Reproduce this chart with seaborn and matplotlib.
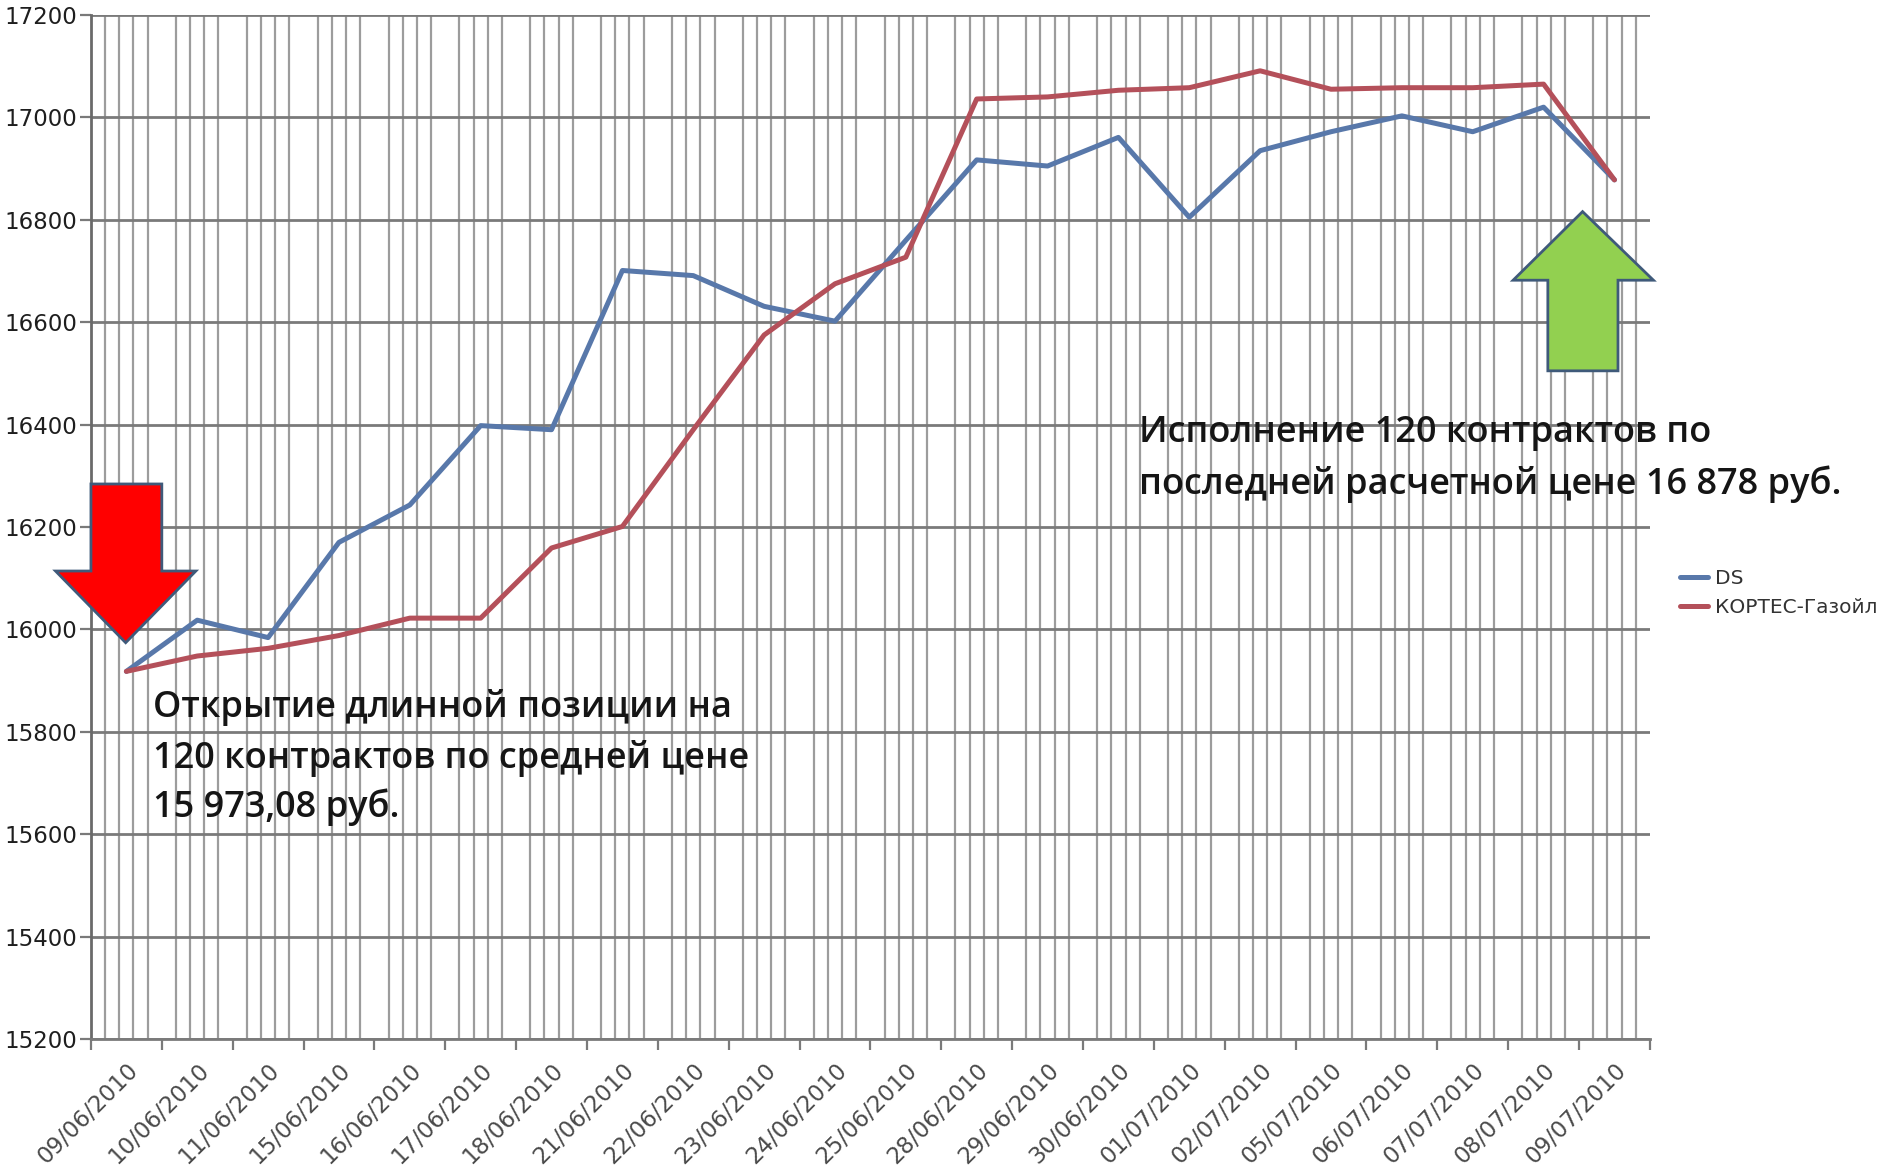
import numpy as np
import pandas as pd
import matplotlib
matplotlib.use("Agg")
import matplotlib.pyplot as plt
import seaborn as sns
from matplotlib.patches import Polygon
from matplotlib.ticker import FixedLocator

# ---- data ----
dates = ["09/06/2010", "10/06/2010", "11/06/2010", "15/06/2010", "16/06/2010",
         "17/06/2010", "18/06/2010", "21/06/2010", "22/06/2010", "23/06/2010",
         "24/06/2010", "25/06/2010", "28/06/2010", "29/06/2010", "30/06/2010",
         "01/07/2010", "02/07/2010", "05/07/2010", "06/07/2010", "07/07/2010",
         "08/07/2010", "09/07/2010"]
ds = [15918, 16018, 15984, 16170, 16243, 16398, 16390, 16701, 16691, 16631,
      16602, 16760, 16917, 16905, 16961, 16805, 16935, 16972, 17003, 16972,
      17020, 16878]
kortes = [15918, 15948, 15963, 15988, 16022, 16022, 16159, 16201, 16390, 16575,
          16675, 16727, 17036, 17040, 17053, 17058, 17091, 17055, 17058, 17058,
          17065, 16878]
series_names = ["DS", "КОРТЕС-Газойл"]
y_ticks = [15200, 15400, 15600, 15800, 16000, 16200, 16400, 16600, 16800, 17000, 17200]

note_open = ["Открытие длинной позиции на",
             "120 контрактов по средней цене",
             "15 973,08 руб."]
note_close = ["Исполнение 120 контрактов по",
              "последней расчетной цене 16 878 руб."]

# ---- style ----
sns.set_theme(style="white")
plt.rcParams["font.family"] = ["Open Sans", "DejaVu Sans"]
tick_font = ["DejaVu Sans"]

n = len(dates)
pos = np.arange(n) + 0.5
df = pd.concat([
    pd.DataFrame({"pos": pos, "value": ds, "series": series_names[0]}),
    pd.DataFrame({"pos": pos, "value": kortes, "series": series_names[1]}),
])

fig = plt.figure(figsize=(18.83, 11.72), dpi=100)
ax = fig.add_axes([0.0483, 0.1135, 0.8279, 0.8737])

palette = {series_names[0]: "#5878AA", series_names[1]: "#B4505A"}
sns.lineplot(data=df, x="pos", y="value", hue="series", palette=palette,
             linewidth=3.6, ax=ax, zorder=3, legend=True)

ax.set_xlim(0, n)
ax.set_ylim(15200, 17200)
ax.set_xlabel("")
ax.set_ylabel("")

# y axis
ax.yaxis.set_major_locator(FixedLocator(y_ticks))
ax.set_yticklabels([str(v) for v in y_ticks], family=tick_font)
ax.yaxis.grid(True, color="#7a7a7a", linewidth=2.0)
ax.tick_params(axis="y", which="major", left=True, length=8, width=1.6,
               color="#7a7a7a", pad=2, labelsize=16.5, labelcolor="#1e1e1e")

# x axis: labels at category centres, tick marks at boundaries
ax.xaxis.set_major_locator(FixedLocator(pos))
ax.set_xticklabels(dates, family=tick_font)
ax.xaxis.set_minor_locator(FixedLocator(np.arange(n + 1)))
ax.tick_params(axis="x", which="major", bottom=True, length=0, pad=14,
               labelsize=16.5, labelcolor="#4a4a4a")
ax.tick_params(axis="x", which="minor", bottom=True, length=8, width=1.6,
               color="#7a7a7a")
plt.setp(ax.get_xticklabels(), rotation=45, ha="right", rotation_mode="anchor")
ax.xaxis.grid(False)

# fine vertical grid (4 lines inside each category)
vgrid = [i + k / 5 for i in range(n) for k in range(1, 5)]
ax.vlines(vgrid, 0, 1, transform=ax.get_xaxis_transform(), colors="#9c9c9c",
          linewidth=1.6, zorder=0.5)
ax.set_axisbelow(True)

for s in ["top", "right"]:
    ax.spines[s].set_visible(False)
ax.spines["left"].set_color("#6a6a6a")
ax.spines["left"].set_linewidth(2.0)
ax.spines["bottom"].set_color("#7a7a7a")
ax.spines["bottom"].set_linewidth(2.0)

# arrows
outline = "#3F5A7A"
red_arrow = [(0.0, 16284), (1.0, 16284), (1.0, 16114), (1.48, 16114),
             (0.49, 15974), (-0.5, 16114), (0.0, 16114)]
green_arrow = [(20.56, 16505), (21.55, 16505), (21.55, 16682), (22.05, 16682),
               (21.05, 16816), (20.07, 16682), (20.56, 16682)]
ax.add_patch(Polygon(red_arrow, closed=True, facecolor="#FF0000",
                     edgecolor=outline, linewidth=2, zorder=5, clip_on=False))
ax.add_patch(Polygon(green_arrow, closed=True, facecolor="#92D050",
                     edgecolor=outline, linewidth=2, zorder=5, clip_on=False))

# annotations
for txt, yv in zip(note_open, [15848, 15748, 15652]):
    ax.text(0.88, yv, txt, fontsize=26, fontweight="semibold", color="#151515",
            va="center", ha="left", zorder=6)
for txt, yv in zip(note_close, [16383, 16283]):
    ax.text(14.79, yv, txt, fontsize=26, fontweight="semibold", color="#151515",
            va="center", ha="left", zorder=6)

# legend
handles, labels = ax.get_legend_handles_labels()
ax.get_legend().remove()
fig.legend(handles, labels, loc="center left", bbox_to_anchor=(0.887, 0.494),
           frameon=False, prop={"family": tick_font, "size": 14.5},
           handlelength=1.4, handletextpad=0.3, labelspacing=0.5, borderpad=0,
           labelcolor="#333333")

fig.savefig("out.png", dpi=100, facecolor="white")
